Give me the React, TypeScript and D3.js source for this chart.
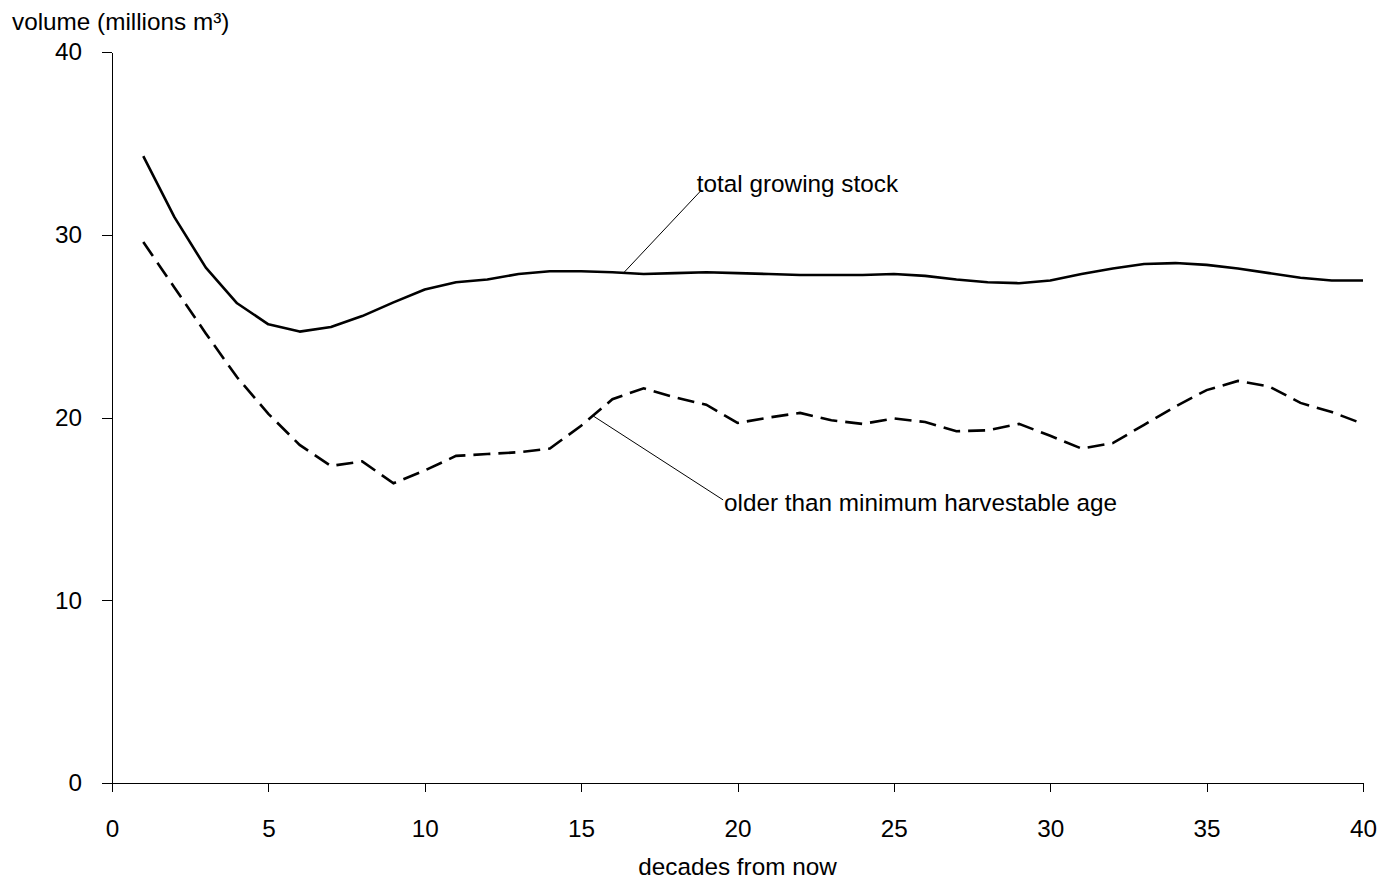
import React, { useEffect, useRef } from 'react';
import * as d3 from 'd3';

// Projected growing stock per decade (millions m³)
const decades = [
  1, 2, 3, 4, 5, 6, 7, 8, 9, 10, 11, 12, 13, 14, 15, 16, 17, 18, 19, 20,
  21, 22, 23, 24, 25, 26, 27, 28, 29, 30, 31, 32, 33, 34, 35, 36, 37, 38, 39, 40,
];

const totalStock = [
  34.3, 30.95, 28.2, 26.25, 25.1, 24.7, 24.95, 25.55, 26.3, 27.0,
  27.4, 27.55, 27.85, 28.0, 28.0, 27.95, 27.85, 27.9, 27.95, 27.9,
  27.85, 27.8, 27.8, 27.8, 27.85, 27.75, 27.55, 27.4, 27.35, 27.5,
  27.85, 28.15, 28.4, 28.45, 28.35, 28.15, 27.9, 27.65, 27.5, 27.5,
];

const olderThanMinAge = [
  29.6, 27.1, 24.6, 22.2, 20.2, 18.5, 17.35, 17.6, 16.4, 17.1,
  17.9, 18.0, 18.1, 18.3, 19.55, 21.0, 21.6, 21.1, 20.7, 19.7,
  20.0, 20.25, 19.85, 19.65, 19.95, 19.75, 19.25, 19.3, 19.65, 19.0,
  18.3, 18.6, 19.6, 20.6, 21.5, 22.0, 21.7, 20.8, 20.3, 19.65,
];

const xTicks = [0, 5, 10, 15, 20, 25, 30, 35, 40];
const yTicks = [0, 10, 20, 30, 40];

const yAxisTitle = 'volume (millions m³)';
const xAxisTitle = 'decades from now';

// Callout labels: anchor on the line, elbow near the text, text origin
const callouts = [
  { text: 'total growing stock', from: [16.35, 27.9], to: [18.85, 32.45], at: [18.7, 32.35] },
  { text: 'older than minimum harvestable age', from: [15.39, 20.08], to: [19.54, 15.49], at: [19.57, 14.88] },
];

const W = 1393;
const H = 880;
const FONT = '"Liberation Sans", Arial, Helvetica, sans-serif';
const FS = '24.3px';

export default function App() {
  const ref = useRef<SVGSVGElement>(null);

  useEffect(() => {
    const svg = d3.select(ref.current);
    svg.selectAll('*').remove();

    const left = 112, right = 1363, top = 52, bottom = 783;
    const x = d3.scaleLinear().domain([0, 40]).range([left, right]);
    const y = d3.scaleLinear().domain([0, 40]).range([bottom, top]);

    svg.append('rect').attr('width', W).attr('height', H).attr('fill', '#fff');

    // X axis
    const gx = svg.append('g')
      .attr('transform', `translate(0,${bottom})`)
      .call(d3.axisBottom(x).tickValues(xTicks).tickSize(9).tickSizeOuter(0).tickPadding(28).tickFormat(d3.format('d')));
    // Y axis
    const gy = svg.append('g')
      .attr('transform', `translate(${left},0)`)
      .call(d3.axisLeft(y).tickValues(yTicks).tickSize(10).tickSizeOuter(0).tickPadding(20).tickFormat(d3.format('d')));

    [gx, gy].forEach((g) => {
      g.selectAll('path, line').attr('stroke', '#000').attr('stroke-width', 1).attr('shape-rendering', 'crispEdges');
      g.selectAll('text').attr('fill', '#000').style('font-family', FONT).style('font-size', FS);
    });
    // Y axis line continues down to the bottom of the x ticks
    svg.append('line')
      .attr('x1', left).attr('x2', left).attr('y1', bottom).attr('y2', bottom + 9)
      .attr('stroke', '#000').attr('shape-rendering', 'crispEdges');

    // Titles
    svg.append('text')
      .attr('x', 12).attr('y', 30)
      .style('font-family', FONT).style('font-size', FS).attr('fill', '#000')
      .text(yAxisTitle);
    svg.append('text')
      .attr('x', (left + right) / 2).attr('y', 875)
      .attr('text-anchor', 'middle')
      .style('font-family', FONT).style('font-size', FS).attr('fill', '#000')
      .text(xAxisTitle);

    const line = d3.line<number>()
      .x((_, i) => x(decades[i]))
      .y((d) => y(d));

    svg.append('path')
      .attr('d', line(totalStock))
      .attr('fill', 'none').attr('stroke', '#000').attr('stroke-width', 2.6)
      .attr('stroke-linejoin', 'round');

    svg.append('path')
      .attr('d', line(olderThanMinAge))
      .attr('fill', 'none').attr('stroke', '#000').attr('stroke-width', 2.6)
      .attr('stroke-dasharray', '17,8');

    // Callouts
    callouts.forEach((c) => {
      svg.append('line')
        .attr('x1', x(c.from[0])).attr('y1', y(c.from[1]))
        .attr('x2', x(c.to[0])).attr('y2', y(c.to[1]))
        .attr('stroke', '#000').attr('stroke-width', 1);
      svg.append('text')
        .attr('x', x(c.at[0])).attr('y', y(c.at[1]))
        .style('font-family', FONT).style('font-size', FS).attr('fill', '#000')
        .text(c.text);
    });
  }, []);

  return (
    <svg
      ref={ref}
      width={W}
      height={H}
      style={{ position: 'absolute', left: 0, top: 0, display: 'block' }}
    />
  );
}
